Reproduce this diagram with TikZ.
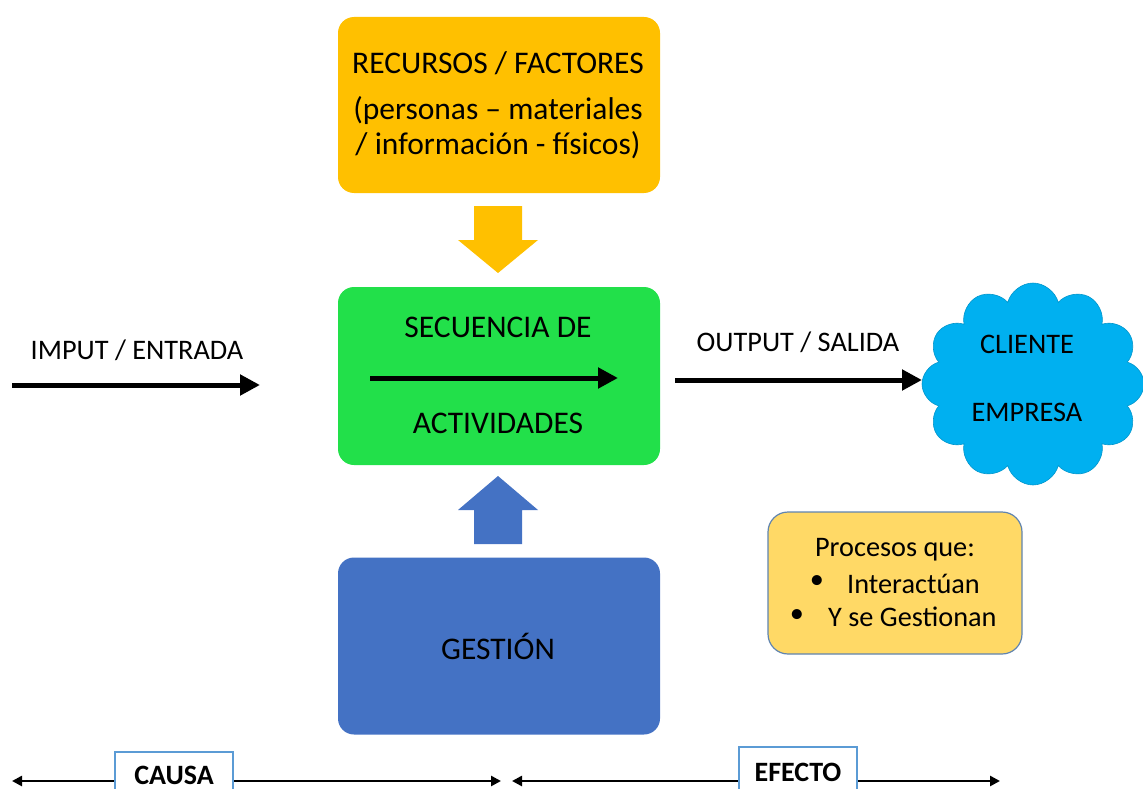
\documentclass[tikz,border=0pt]{standalone}
\usepackage{fontspec}
\setmainfont{Carlito}
\usetikzlibrary{arrows.meta,shapes.symbols}

\definecolor{recursos}{RGB}{255,192,0}
\definecolor{secuencia}{RGB}{34,224,74}
\definecolor{gestion}{RGB}{68,114,196}
\definecolor{nube}{RGB}{0,176,240}
\definecolor{nota}{RGB}{255,217,102}
\definecolor{notaborde}{RGB}{96,132,176}
\definecolor{etiqueta}{RGB}{91,155,213}

\tikzset{
  bloque/.style={rounded corners=16pt, draw=none, minimum width=322pt, inner sep=0pt},
  rotulo/.style={inner sep=0pt, text=black},
  grande/.style={rotulo, font=\fontsize{31.5}{36}\selectfont},
  flecha/.style={line width=5pt, -{Triangle[length=20pt,width=20pt]}},
  fina/.style={line width=2.5pt, {Triangle[length=10pt,width=10pt]}-{Triangle[length=10pt,width=10pt]}},
  etq/.style={draw=etiqueta, line width=1.2pt, fill=white, inner sep=0pt, font=\fontsize{28}{32}\selectfont\bfseries}
}

\begin{document}
\begin{tikzpicture}[x=1pt, y=-1pt, font=\fontsize{28.3}{32}\selectfont]
\useasboundingbox (0,0) rectangle (1143,789);
\clip (0,0) rectangle (1143,789);

% --- main blocks ---
\node[bloque, fill=recursos, minimum height=176pt] (rec) at (499,105) {};
\node[grande] (recT1) at (498,63) {RECURSOS / FACTORES};
\node[grande] (recT2) at (498,111) {(personas – materiales};
\node[grande] (recT3) at (498,145) {/ información - físicos)};

\node[bloque, fill=secuencia, minimum height=178pt] (sec) at (499,376) {};
\node[grande] (secT1) at (498,327) {SECUENCIA DE};
\node[grande] (secT2) at (498,423) {ACTIVIDADES};
\coordinate (secA) at (370,378);
\coordinate (secB) at (618,378);
\draw[flecha] (secA) -- (secB);

\node[bloque, fill=gestion, minimum height=177pt] (ges) at (499,646) {};
\node[grande] (gesT) at (498,646) {GESTIÓN};

% --- block arrows between the boxes ---
\fill[recursos] (474,206) -- (522,206) -- (522,240) -- (538,240) -- (498,273)
  -- (458,240) -- (474,240) -- cycle;
\fill[gestion] (498,476) -- (538,510) -- (522,510) -- (522,544) -- (474,544)
  -- (474,510) -- (458,510) -- cycle;

% --- input ---
\node[rotulo] (inT) at (137,350) {IMPUT / ENTRADA};
\coordinate (inA) at (12,385);
\coordinate (inB) at (260,385);
\draw[flecha] (inA) -- (inB);

% --- client cloud and output ---
\node[cloud, cloud puffs=12, cloud ignores aspect, fill=nube, draw=nube!85!black, line width=0.6pt,
      minimum width=222pt, minimum height=202pt] (cli) at (1033,384) {};
\node[rotulo] (cliT1) at (1027,344) {CLIENTE};
\node[rotulo] (cliT2) at (1027,412) {EMPRESA};

\node[rotulo] (outT) at (798,342) {OUTPUT / SALIDA};
\coordinate (outA) at (675,380);
\coordinate (outB) at (922,380);
\draw[flecha] (outA) -- (outB);

% --- note ---
\node[rounded corners=20pt, fill=nota, draw=notaborde, line width=1.2pt,
      minimum width=254pt, minimum height=142pt] (nota) at (895,583) {};
\node[rotulo] (notaT) at (895,550) {Procesos que:};
\node[rotulo] (bul1) at (817,582) {•};
\node[rotulo, anchor=west] (notaI) at (847,584) {Interactúan};
\node[rotulo] (bul2) at (797,616) {•};
\node[rotulo, anchor=west] (notaG) at (828,617) {Y se Gestionan};

% --- cause / effect ---
\coordinate (cA) at (12,781);
\coordinate (cB) at (501,781);
\draw[fina] (cA) -- (cB);
\coordinate (eA) at (512,781);
\coordinate (eB) at (1000,781);
\draw[fina] (eA) -- (eB);

\node[etq, minimum width=118pt, minimum height=46pt] (causa) at (174,775) {CAUSA};
\node[etq, minimum width=118pt, minimum height=50pt] (efecto) at (798,772) {EFECTO};
\end{tikzpicture}
\end{document}
